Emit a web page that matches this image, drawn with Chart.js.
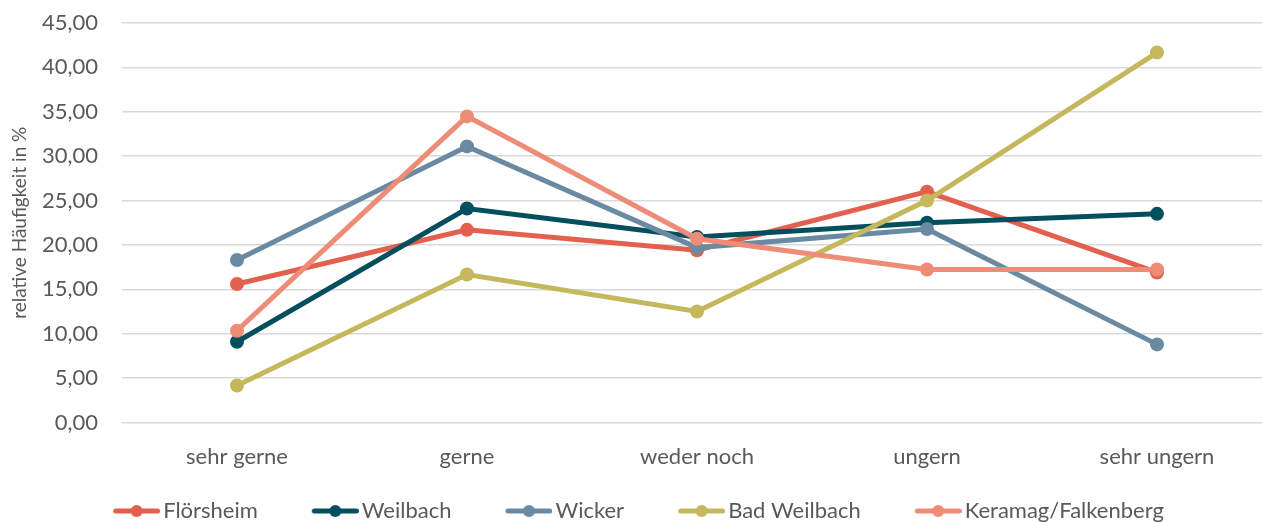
<!DOCTYPE html>
<html>
<head>
<meta charset="utf-8">
<script src="https://cdn.jsdelivr.net/npm/chart.js@4/dist/chart.umd.min.js"></script>
<style>
  html, body { margin: 0; padding: 0; background: #fff; overflow: hidden; }
  #wrap { width: 1280px; height: 532px; }
</style>
</head>
<body>
<div id="wrap"><canvas id="chart"></canvas></div>
<script>
// categories and series values (relative Häufigkeit in %)
const categories = ['sehr gerne', 'gerne', 'weder noch', 'ungern', 'sehr ungern'];
const floersheim = [15.6, 21.7, 19.4, 26.0, 16.9];
const weilbach = [9.1, 24.1, 20.9, 22.5, 23.5];
const wicker = [18.3, 31.1, 19.7, 21.8, 8.8];
const badWeilbach = [4.17, 16.67, 12.5, 25.0, 41.67];
const keramag = [10.34, 34.48, 20.69, 17.24, 17.24];
const seriesNames = ['Flörsheim', 'Weilbach', 'Wicker', 'Bad Weilbach', 'Keramag/Falkenberg'];
const seriesColors = ['#E4604E', '#034F5E', '#6A89A2', '#C5B85C', '#EE8C77'];

const fontFamily = 'Lato, "Open Sans", sans-serif';
const textColor = '#595959';

// legend marker: line with a dot, sitting at the right end of a wider image,
// the blank left part gives the space between legend entries
function legendMarker(color) {
    const c = document.createElement('canvas');
    c.width = 84;
    c.height = 16;
    const ctx = c.getContext('2d');
    ctx.strokeStyle = color;
    ctx.lineWidth = 5;
    ctx.lineCap = 'round';
    ctx.beginPath();
    ctx.moveTo(39.5, 8);
    ctx.lineTo(81.5, 8);
    ctx.stroke();
    ctx.fillStyle = color;
    ctx.beginPath();
    ctx.arc(60.5, 8, 6, 0, Math.PI * 2);
    ctx.fill();
    return c;
}

// nudge the legend a bit left so the visible entries sit centred
const legendShift = {
    id: 'legendShift',
    afterLayout: function(chart) {
        chart.legend.left -= 16;
        chart.legend.right -= 16;
    }
};

const allData = [floersheim, weilbach, wicker, badWeilbach, keramag];
const datasets = allData.map(function(values, i) {
    return {
        label: seriesNames[i],
        data: values,
        borderColor: seriesColors[i],
        backgroundColor: seriesColors[i],
        borderWidth: 5,
        pointRadius: 7,
        pointHoverRadius: 7,
        pointBorderWidth: 0,
        tension: 0,
        fill: false,
        order: allData.length - i,
        markerImg: legendMarker(seriesColors[i])
    };
});

new Chart(document.getElementById('chart'), {
    type: 'line',
    data: {
        labels: categories,
        datasets: datasets
    },
    plugins: [legendShift],
    options: {
        responsive: true,
        maintainAspectRatio: false,
        animation: false,
        layout: {
            padding: { left: 8, right: 8, top: 23, bottom: 0 }
        },
        scales: {
            x: {
                offset: true,
                afterFit: function(scale) { scale.height = 52.5; },
                grid: { display: false, drawTicks: false },
                border: { display: false },
                ticks: {
                    color: textColor,
                    padding: 21,
                    font: { family: fontFamily, size: 22 }
                }
            },
            y: {
                min: 0,
                max: 45,
                afterFit: function(scale) { scale.width = 114; },
                grid: { color: '#D9D9D9', lineWidth: 1.5, drawTicks: true, tickLength: 24, tickColor: 'rgba(0,0,0,0)' },
                border: { display: false },
                ticks: {
                    stepSize: 5,
                    color: textColor,
                    padding: 0,
                    font: { family: fontFamily, size: 22 },
                    callback: function(value) {
                        return value.toFixed(2).replace('.', ',');
                    }
                },
                title: {
                    display: true,
                    text: 'relative Häufigkeit in %',
                    color: textColor,
                    font: { family: fontFamily, size: 19 },
                    padding: { top: 0, bottom: 0 }
                }
            }
        },
        plugins: {
            legend: {
                display: true,
                position: 'bottom',
                labels: {
                    usePointStyle: true,
                    pointStyleWidth: 68,
                    padding: 25,
                    color: textColor,
                    font: { family: fontFamily, size: 22 },
                    sort: function(a, b) { return a.datasetIndex - b.datasetIndex; },
                    generateLabels: function(chart) {
                        const items = Chart.defaults.plugins.legend.labels.generateLabels(chart);
                        items.forEach(function(item) {
                            item.pointStyle = chart.data.datasets[item.datasetIndex].markerImg;
                        });
                        return items;
                    }
                }
            },
            tooltip: { enabled: false }
        }
    }
});
</script>
</body>
</html>
